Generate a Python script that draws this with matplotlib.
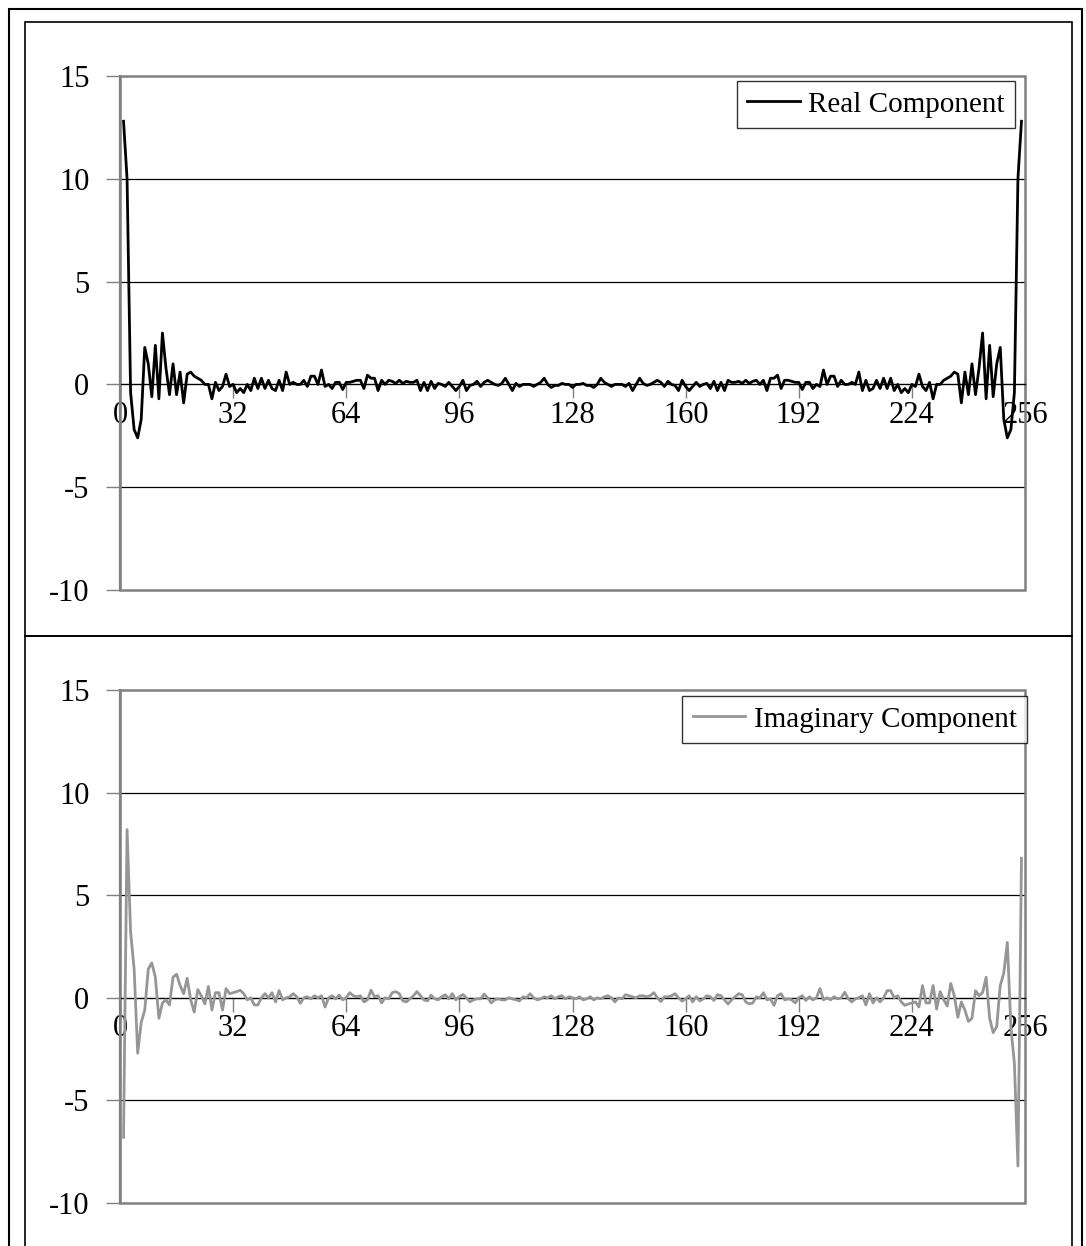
import matplotlib
matplotlib.use("Agg")
import matplotlib.pyplot as plt
from matplotlib.patches import Rectangle
import numpy as np

plt.rcParams['font.family'] = ['Liberation Serif', 'DejaVu Serif']

# Spectrum bins 1..255 (FFT of 256 samples)
real_component = [
    12.8, 10.0, -0.4, -2.2, -2.6, -1.7, 1.8, 1.0, -0.6, 1.9,
    -0.7, 2.5, 0.8, -0.5, 1.0, -0.5, 0.6, -0.9, 0.5, 0.6,
    0.4, 0.3, 0.2, 0.0, 0.0, -0.7, 0.1, -0.3, -0.1, 0.5,
    -0.1, 0.0, -0.4, -0.2, -0.4, 0.0, -0.3, 0.3, -0.2, 0.3,
    -0.2, 0.2, -0.2, -0.3, 0.2, -0.3, 0.6, 0.0, 0.1, 0.0,
    0.0, 0.2, -0.1, 0.4, 0.4, 0.0, 0.7, -0.1, 0.0, -0.2,
    0.1, 0.1, -0.25, 0.1, 0.1, 0.15, 0.2, 0.2, -0.2, 0.45,
    0.3, 0.3, -0.3, 0.2, 0.0, 0.2, 0.15, 0.05, 0.2, 0.05,
    0.15, 0.1, 0.1, 0.2, -0.3, 0.1, -0.3, 0.15, -0.2, 0.05,
    0.0, -0.1, 0.1, -0.1, -0.3, -0.1, 0.2, -0.3, -0.05, 0.0,
    0.15, -0.1, 0.1, 0.2, 0.1, 0.0, -0.05, 0.05, 0.3, 0.0,
    -0.3, 0.05, -0.1, 0.0, 0.0, 0.0, -0.1, 0.0, 0.1, 0.3,
    0.0, -0.15, -0.05, -0.05, 0.05, 0.0, 0.0, -0.15,
    0.0, 0.0, 0.05, -0.05, -0.05, -0.15, 0.0,
    0.3, 0.1, 0.0, -0.1, 0.0, 0.0, 0.0, -0.1, 0.05, -0.3,
    0.0, 0.3, 0.05, -0.05, 0.0, 0.1, 0.2, 0.1, -0.1, 0.15,
    0.0, -0.05, -0.3, 0.2, -0.1, -0.3, -0.1, 0.1, -0.1, 0.0,
    0.05, -0.2, 0.15, -0.3, 0.1, -0.3, 0.2, 0.1, 0.1, 0.15,
    0.05, 0.2, 0.05, 0.15, 0.2, 0.0, 0.2, -0.3, 0.3, 0.3,
    0.45, -0.2, 0.2, 0.2, 0.15, 0.1, 0.1, -0.25, 0.1, 0.1,
    -0.2, 0.0, -0.1, 0.7, 0.0, 0.4, 0.4, -0.1, 0.2, 0.0,
    0.0, 0.1, 0.0, 0.6, -0.3, 0.2, -0.3, -0.2, 0.2, -0.2,
    0.3, -0.2, 0.3, -0.3, 0.0, -0.4, -0.2, -0.4, 0.0, -0.1,
    0.5, -0.1, -0.3, 0.1, -0.7, 0.0, 0.0, 0.2, 0.3, 0.4,
    0.6, 0.5, -0.9, 0.6, -0.5, 1.0, -0.5, 0.8, 2.5, -0.7,
    1.9, -0.6, 1.0, 1.8, -1.7, -2.6, -2.2, -0.4, 10.0, 12.8,
]

imag_component = [
    -6.8, 8.2, 3.2, 1.4, -2.7, -1.2, -0.6, 1.4, 1.7, 1.0,
    -1.0, -0.25, -0.1, -0.35, 1.0, 1.15, 0.6, 0.2, 0.95, -0.1,
    -0.7, 0.4, 0.1, -0.3, 0.55, -0.6, 0.25, 0.25, -0.6, 0.45,
    0.2, 0.25, 0.3, 0.37, 0.2, -0.1, 0.0, -0.35, -0.35, 0.0,
    0.2, 0.0, 0.25, -0.2, 0.35, -0.1, 0.0, 0.05, 0.2, 0.05,
    -0.27, 0.0, 0.05, -0.05, 0.1, 0.0, 0.1, -0.45, 0.0, 0.1,
    -0.05, 0.13, -0.1, 0.0, 0.25, 0.1, 0.05, 0.1, -0.2, -0.1,
    0.37, 0.05, 0.1, -0.25, 0.0, -0.05, 0.25, 0.3, 0.2, -0.15,
    -0.2, -0.05, 0.1, 0.3, 0.1, -0.1, -0.15, 0.13, -0.05, -0.1,
    0.05, 0.15, -0.05, 0.2, -0.1, 0.05, 0.16, 0.0, -0.2, -0.1,
    -0.05, -0.05, 0.18, 0.0, -0.25, -0.1, -0.05, -0.1, -0.1, 0.0,
    -0.05, -0.1, -0.15, 0.05, 0.0, 0.2, 0.0, -0.1, -0.05, 0.05,
    0.0, 0.1, -0.05, 0.05, 0.1, -0.05, 0.05, 0.0,
    -0.05, 0.05, -0.1, -0.05, 0.05, -0.1, 0.0,
    -0.05, 0.05, 0.1, 0.0, -0.2, 0.0, -0.05, 0.15, 0.1, 0.05,
    0.0, 0.1, 0.1, 0.05, 0.1, 0.25, 0.0, -0.18, 0.05, 0.05,
    0.1, 0.2, 0.0, -0.16, -0.05, 0.1, -0.2, 0.05, -0.15, -0.05,
    0.1, 0.05, -0.13, 0.15, 0.1, -0.1, -0.3, -0.1, 0.05, 0.2,
    0.15, -0.2, -0.3, -0.25, 0.05, 0.0, 0.25, -0.1, -0.05, -0.37,
    0.1, 0.2, -0.1, -0.05, -0.1, -0.25, 0.0, 0.1, -0.13, 0.05,
    -0.1, 0.0, 0.45, -0.1, 0.0, -0.1, 0.05, -0.05, 0.0, 0.27,
    -0.05, -0.2, -0.05, 0.0, 0.1, -0.35, 0.2, -0.25, 0.0, -0.2,
    0.0, 0.35, 0.35, 0.0, 0.1, -0.2, -0.37, -0.3, -0.25, -0.2,
    -0.45, 0.6, -0.25, -0.25, 0.6, -0.55, 0.3, -0.1, -0.4, 0.7,
    0.1, -0.95, -0.2, -0.6, -1.15, -1.0, 0.35, 0.1, 0.25, 1.0,
    -1.0, -1.7, -1.4, 0.6, 1.2, 2.7, -1.4, -3.2, -8.2, 6.8,
]

x_ticks = [0, 32, 64, 96, 128, 160, 192, 224, 256]
y_ticks = [-10, -5, 0, 5, 10, 15]

W, H = 1086, 1246
fig = plt.figure(figsize=(W / 100, H / 100), dpi=100)


def box(x0, y0, x1, y1):
    return [x0 / W, 1 - y1 / H, (x1 - x0) / W, (y1 - y0) / H]


# Chart frames
for (x0, y0, x1, y1, lw) in [(9, 9, 1082, 1260, 1.5),
                             (25, 22, 1072, 636, 1.2),
                             (25, 636, 1072, 1260, 1.2)]:
    fig.patches.append(Rectangle((x0 / W, 1 - y1 / H), (x1 - x0) / W, (y1 - y0) / H,
                                 transform=fig.transFigure, fill=False,
                                 edgecolor='black', linewidth=lw, zorder=0))

FS = 22
panels = [
    (box(120, 76, 1025, 590), real_component, 'black', 'Real Component', (1015, 81)),
    (box(120, 690, 1025, 1203), imag_component, '#969696', 'Imaginary Component', (1027, 696)),
]

for rect, values, color, label, (lx, ly) in panels:
    ax = fig.add_axes(rect)
    xs = np.arange(1, len(values) + 1)
    ax.set_xlim(0, 256)
    ax.set_ylim(-10, 15)
    for g in (10, 5, -5):
        ax.axhline(g, color='black', linewidth=0.9, zorder=1)
    ax.plot(xs, values, color=color, linewidth=2.0, zorder=3, label=label,
            solid_joinstyle='round')

    for side in ('top', 'right'):
        ax.spines[side].set_visible(False)
    ax.spines['left'].set_color('#808080')
    ax.spines['left'].set_linewidth(1.6)
    ax.spines['bottom'].set_position(('data', 0))
    ax.spines['bottom'].set_color('black')
    ax.spines['bottom'].set_linewidth(1.0)
    ax.spines['bottom'].set_zorder(2)
    ax.add_patch(Rectangle((0, 0), 1, 1, transform=ax.transAxes, fill=False,
                           edgecolor='#808080', linewidth=1.8, clip_on=False, zorder=2))

    ax.set_xticks(x_ticks)
    ax.set_xticklabels([str(t) for t in x_ticks])
    ax.set_yticks(y_ticks)
    ax.set_yticklabels([str(t) for t in y_ticks])
    ax.tick_params(axis='x', direction='out', length=10, width=1, color='#808080',
                   labelsize=FS, pad=2)
    ax.tick_params(axis='y', direction='out', length=10, width=1, color='#808080',
                   labelsize=FS, pad=12)
    ax.set_facecolor('none')

    leg = ax.legend(loc='upper right', bbox_to_anchor=(lx / W, 1 - ly / H),
                    bbox_transform=fig.transFigure, fontsize=21, frameon=True,
                    fancybox=False, borderaxespad=0, borderpad=0.35,
                    handlelength=1.8, handletextpad=0.3)
    leg.get_frame().set_edgecolor('black')
    leg.get_frame().set_linewidth(1.0)

fig.savefig('out.png', dpi=100)
